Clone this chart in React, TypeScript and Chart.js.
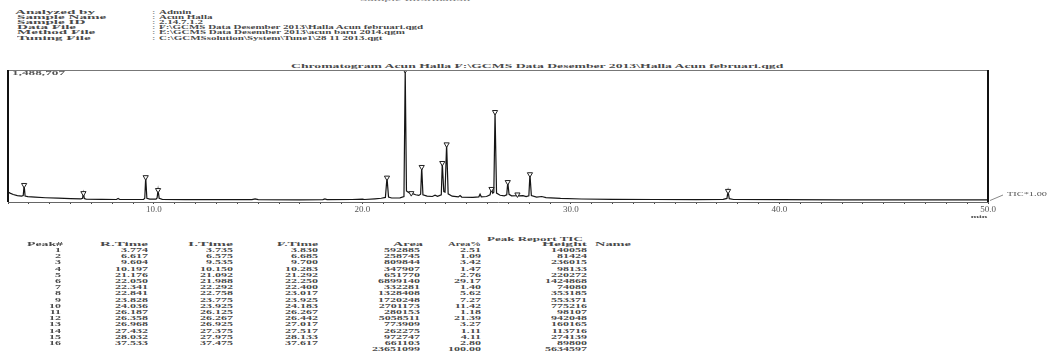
import React, { useEffect, useRef } from 'react';
import { Chart, registerables } from 'chart.js';

Chart.register(...registerables);

const W = 1056;
const H = 356;

// ---------- chart data ----------
const timeMin = 3.0;
const timeMax = 50.0;
const ticMax = 1488707;

// TIC trace vertices: [retention time (min), intensity]
const ticTrace: [number, number][] = [
  [3.0, 112000], [3.1, 100000], [3.25, 85000], [3.45, 72000], [3.65, 66000], [3.73, 72000],
  [3.774, 192000], [3.82, 68000], [3.95, 60000], [4.3, 54000], [4.8, 48000], [5.4, 43000],
  [6.0, 38000], [6.5, 35000], [6.575, 42000], [6.617, 100000], [6.66, 40000], [6.75, 33000],
  [7.5, 30000], [8.2, 28000], [8.28, 40000], [8.36, 28000], [9.0, 28000], [9.5, 30000],
  [9.56, 42000], [9.604, 280000], [9.66, 42000], [9.8, 32000], [10.1, 32000], [10.15, 45000],
  [10.197, 135000], [10.25, 42000], [10.4, 30000], [11.5, 27000], [13.0, 26000], [14.7, 27000],
  [14.85, 36000], [15.0, 27000], [17.0, 25000], [18.1, 27000], [18.2, 34000], [18.3, 27000],
  [19.5, 28000], [20.0, 33000], [20.1, 28000], [20.6, 36000], [20.9, 42000], [21.1, 52000],
  [21.176, 275000], [21.25, 55000], [21.4, 45000], [21.8, 46000], [21.99, 62000], [22.05, 1488707],
  [22.11, 125000], [22.18, 112000], [22.3, 96000], [22.341, 100000], [22.55, 82000], [22.7, 74000],
  [22.79, 88000], [22.841, 395000], [22.9, 82000], [23.1, 66000], [23.35, 62000], [23.48, 76000],
  [23.6, 64000], [23.78, 82000], [23.828, 440000], [23.9, 118000], [23.96, 112000], [24.036, 650000],
  [24.11, 92000], [24.3, 66000], [24.6, 58000], [24.68, 72000], [24.76, 56000], [25.3, 52000],
  [25.58, 58000], [25.64, 88000], [25.7, 58000], [25.95, 62000], [26.12, 82000], [26.187, 147000],
  [26.25, 100000], [26.3, 110000], [26.358, 1015000], [26.43, 100000], [26.6, 76000], [26.8, 70000],
  [26.92, 82000], [26.968, 225000], [27.03, 86000], [27.15, 70000], [27.38, 72000], [27.432, 85000],
  [27.5, 68000], [27.7, 72000], [27.85, 60000], [27.98, 70000], [28.032, 313000], [28.1, 72000],
  [28.35, 56000], [28.6, 62000], [28.8, 50000], [29.5, 40000], [30.5, 34000], [32.0, 30000],
  [34.0, 28000], [36.0, 27000], [37.3, 29000], [37.48, 40000], [37.533, 125000], [37.59, 38000],
  [37.8, 28000], [40.0, 26000], [43.0, 25000], [46.0, 24000], [50.0, 24000],
];

// peak table
const peakNo = [1, 2, 3, 4, 5, 6, 7, 8, 9, 10, 11, 12, 13, 14, 15, 16];
const peakRT = [3.774, 6.617, 9.604, 10.197, 21.176, 22.05, 22.341, 22.841, 23.828, 24.036, 26.187, 26.358, 26.968, 27.432, 28.032, 37.533];
const peakIT = [3.735, 6.575, 9.535, 10.15, 21.092, 21.988, 22.292, 22.758, 23.775, 23.925, 26.125, 26.267, 26.925, 27.375, 27.975, 37.475];
const peakFT = [3.83, 6.685, 9.7, 10.283, 21.292, 22.25, 22.4, 23.017, 23.925, 24.183, 26.267, 26.442, 27.017, 27.517, 28.133, 37.617];
const peakArea = [592885, 258745, 809844, 347907, 651770, 6899140, 332281, 1328408, 1720248, 2701173, 280153, 5058511, 773909, 262275, 972747, 661103];
const peakAreaPct = [2.51, 1.09, 3.42, 1.47, 2.76, 29.17, 1.4, 5.62, 7.27, 11.42, 1.18, 21.39, 3.27, 1.11, 4.11, 2.8];
const peakHeight = [140058, 81424, 236015, 98133, 220272, 1424868, 74080, 353185, 553371, 775216, 98107, 942048, 160165, 113716, 274139, 89800];
const areaTotal = 23651099;
const pctTotal = 100.0;
const heightTotal = 5634597;
// apex intensity of each marked peak on the chromatogram
const peakApex = [192000, 100000, 280000, 135000, 275000, 1488707, 100000, 395000, 440000, 650000, 147000, 1015000, 225000, 85000, 313000, 125000];

// header
const headerLabels = ['Analyzed by', 'Sample Name', 'Sample ID', 'Data File', 'Method File', 'Tuning File'];
const headerValues = [
  'Admin',
  'Acun Halla',
  '2.14.7.1.2',
  'F:\\GCMS Data Desember 2013\\Halla Acun februari.qgd',
  'E:\\GCMS Data Desember 2013\\acun baru 2014.qgm',
  'C:\\GCMSsolution\\System\\Tune1\\28 11 2013.qgt',
];
const chartTitle = 'Chromatogram Acun Halla F:\\GCMS Data Desember 2013\\Halla Acun februari.qgd';
const tableColumns = ['Peak#', 'R.Time', 'I.Time', 'F.Time', 'Area', 'Area%', 'Height', 'Name'];

// ---------- text helpers ----------
const FAMILY = '"Liberation Serif", "DejaVu Serif", serif';
let mctx: CanvasRenderingContext2D | null = null;
function measure(text: string, font: string): number {
  if (!mctx) mctx = document.createElement('canvas').getContext('2d');
  if (!mctx) return text.length * 6;
  mctx.font = font;
  return mctx.measureText(text).width;
}

type TxtProps = {
  text: string;
  x: number;
  y: number;
  w?: number;
  sx?: number;
  size?: number;
  sy?: number;
  align?: 'left' | 'right' | 'center';
  color?: string;
  weight?: number;
};

function Txt({ text, x, y, w, sx, size = 12, sy = 0.5, align = 'left', color = '#333', weight = 400 }: TxtProps) {
  const font = `${weight} ${size}px ${FAMILY}`;
  const natural = measure(text, font);
  const scx = w ? w / natural : sx ?? 1;
  const style: React.CSSProperties = {
    position: 'absolute',
    top: y - size / 2,
    height: size,
    lineHeight: `${size}px`,
    fontFamily: FAMILY,
    fontSize: size,
    fontWeight: weight,
    color,
    whiteSpace: 'nowrap',
    transform: `scale(${scx}, ${sy})`,
  };
  if (align === 'left') {
    style.left = x;
    style.transformOrigin = 'left center';
  } else if (align === 'right') {
    style.right = W - x;
    style.transformOrigin = 'right center';
  } else {
    style.left = x - natural / 2;
    style.width = natural;
    style.transformOrigin = 'center center';
  }
  return <div style={style}>{text}</div>;
}

// ---------- chart ----------
function Chromatogram() {
  const ref = useRef<HTMLCanvasElement>(null);
  useEffect(() => {
    if (!ref.current) return;
    const frame = {
      id: 'frame',
      afterDraw(chart: any) {
        const { ctx, chartArea } = chart;
        const { left, right, top, bottom } = chartArea;
        ctx.save();
        ctx.strokeStyle = '#777';
        ctx.lineWidth = 1;
        ctx.beginPath();
        ctx.moveTo(left, top + 0.5);
        ctx.lineTo(right, top + 0.5);
        ctx.stroke();
        ctx.strokeStyle = '#111';
        ctx.lineWidth = 2;
        ctx.beginPath();
        ctx.moveTo(left, top);
        ctx.lineTo(left, bottom);
        ctx.moveTo(right, top);
        ctx.lineTo(right, bottom);
        ctx.stroke();
        ctx.strokeStyle = '#888';
        ctx.lineWidth = 1;
        ctx.beginPath();
        ctx.moveTo(right + 2, bottom - 1.5);
        ctx.lineTo(right + 15, bottom - 7);
        ctx.stroke();
        ctx.restore();
      },
    };
    const chart = new Chart(ref.current, {
      type: 'line',
      data: {
        datasets: [
          {
            data: ticTrace.map(([x, y]) => ({ x, y })),
            borderColor: '#151515',
            borderWidth: 1.2,
            pointRadius: 0,
            tension: 0,
            fill: false,
            order: 2,
          } as any,
          {
            type: 'scatter',
            data: peakRT.map((x, i) => ({ x, y: peakApex[i] })),
            pointStyle: 'triangle',
            rotation: 180,
            pointRadius: 3,
            borderColor: '#222',
            backgroundColor: '#fff',
            borderWidth: 1,
            order: 1,
          } as any,
        ],
      },
      options: {
        animation: false,
        responsive: false,
        maintainAspectRatio: false,
        devicePixelRatio: 1,
        events: [],
        layout: { padding: { left: 8, right: 68, top: 30, bottom: 0 } },
        plugins: {
          legend: { display: false },
          tooltip: { enabled: false },
          title: { display: false },
        },
        scales: {
          x: {
            type: 'linear',
            min: timeMin,
            max: timeMax,
            afterFit: (s: any) => {
              s.height = 28;
            },
            border: { display: true, color: '#666', width: 1 },
            grid: { drawOnChartArea: false, drawTicks: true, tickLength: 2, color: '#444' },
            ticks: {
              stepSize: 1,
              autoSkip: false,
              maxRotation: 0,
              padding: 0,
              color: '#555',
              font: { family: 'Liberation Serif', size: 9 },
              callback: (v: any) => (Number(v) % 10 === 0 ? Number(v).toFixed(1) : ''),
            },
          },
          y: { display: false, min: 0, max: ticMax },
        },
      } as any,
      plugins: [frame],
    });
    return () => chart.destroy();
  }, []);
  return (
    <canvas
      ref={ref}
      width={1056}
      height={190}
      style={{ position: 'absolute', left: 0, top: 40, width: 1056, height: 190 }}
    />
  );
}

// ---------- page ----------
export default function App() {
  const headerRowY = (i: number) => 11.5 + 5.2 * i;
  const labelScale = 80 / measure(headerLabels[0], `700 12px ${FAMILY}`);
  const valueScale = 265 / measure(headerValues[3], `700 12px ${FAMILY}`);
  const rowY = (i: number) => 250 + 6.2 * i;
  const colRight = [61, 148, 233, 318, 420, 481, 587];
  const headerSpans: [number, number][] = [
    [27, 63], [100, 148], [188, 233], [277, 318], [393, 423], [448, 481], [542, 587], [595, 631],
  ];
  const ink = '#4a4a4a';
  return (
    <div
      style={{
        position: 'fixed',
        left: 0,
        top: 0,
        width: W,
        height: H,
        background: '#fff',
        overflow: 'hidden',
        filter: 'blur(0.4px)',
      }}
    >
      <Txt text="Sample Information" x={360} y={-1.5} w={110} size={13} sy={0.5} color="#777" />
      {headerLabels.map((t, i) => (
        <Txt key={'hl' + i} text={t} x={i === 0 ? 15 : 17} y={headerRowY(i)} sx={labelScale} size={12} sy={0.5} color={ink} weight={700} />
      ))}
      {headerValues.map((t, i) => (
        <React.Fragment key={'hv' + i}>
          <Txt text=":" x={152} y={headerRowY(i)} size={12} sy={0.5} color="#777" />
          <Txt text={t} x={159} y={headerRowY(i)} sx={valueScale} size={12} sy={0.5} color={ink} weight={700} />
        </React.Fragment>
      ))}
      <Txt text={chartTitle} x={291} y={65.5} w={494} size={13} sy={0.5} color={ink} weight={700} />
      <Chromatogram />
      <Txt text="1,488,707" x={12} y={72.5} w={53} size={12} sy={0.45} color="#555" weight={700} />
      <Txt text="TIC*1.00" x={1007} y={194} w={40} size={12} sy={0.5} color="#555" />
      <Txt text="min" x={979} y={215.5} align="center" size={10} sy={0.5} color="#555" weight={700} />

      <Txt text="Peak Report TIC" x={487} y={238} w={96} size={13} sy={0.5} color={ink} weight={700} />
      {tableColumns.map((c, i) => (
        <Txt key={'th' + i} text={c} x={headerSpans[i][0]} y={244} w={headerSpans[i][1] - headerSpans[i][0]} size={12} sy={0.5} color={ink} weight={700} />
      ))}
      {peakNo.map((n, i) => {
        const cells = [
          String(n),
          peakRT[i].toFixed(3),
          peakIT[i].toFixed(3),
          peakFT[i].toFixed(3),
          String(peakArea[i]),
          peakAreaPct[i].toFixed(2),
          String(peakHeight[i]),
        ];
        return cells.map((c, j) => (
          <Txt key={`r${i}c${j}`} text={c} x={colRight[j]} y={rowY(i)} align="right" size={12} sy={0.5} color={ink} weight={700} />
        ));
      })}
      <Txt text={String(areaTotal)} x={colRight[4]} y={rowY(16)} align="right" size={12} sy={0.5} color={ink} weight={700} />
      <Txt text={pctTotal.toFixed(2)} x={colRight[5]} y={rowY(16)} align="right" size={12} sy={0.5} color={ink} weight={700} />
      <Txt text={String(heightTotal)} x={colRight[6]} y={rowY(16)} align="right" size={12} sy={0.5} color={ink} weight={700} />
    </div>
  );
}
